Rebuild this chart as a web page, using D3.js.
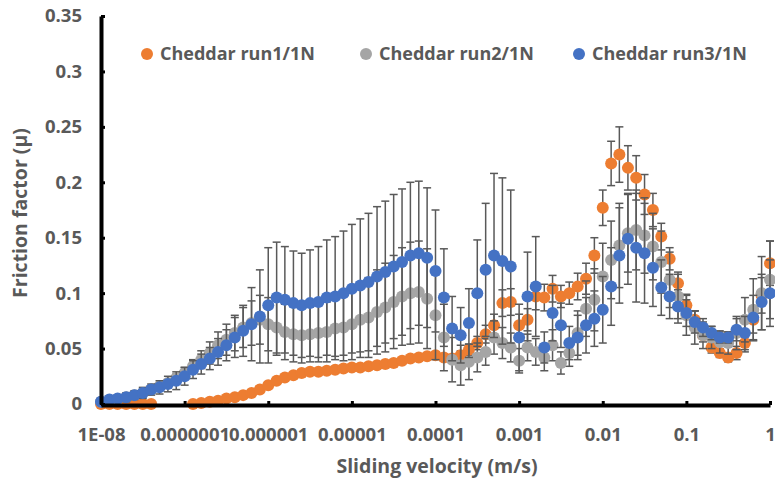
<!DOCTYPE html>
<html>
<head>
<meta charset="utf-8">
<script src="https://cdn.jsdelivr.net/npm/d3@7"></script>
<style>
  body { margin: 0; background: #fff; }
  text { font-family: "Open Sans", sans-serif; font-weight: bold; fill: #595959; }
</style>
</head>
<body>
<script>
// sliding velocity (m/s), ten points per decade
var velocity = [
  1e-8, 1.26e-8, 1.58e-8, 2e-8, 2.51e-8, 3.16e-8, 3.98e-8, 5.01e-8, 6.31e-8, 7.94e-8,
  1e-7, 1.26e-7, 1.58e-7, 2e-7, 2.51e-7, 3.16e-7, 3.98e-7, 5.01e-7, 6.31e-7, 7.94e-7,
  1e-6, 1.26e-6, 1.58e-6, 2e-6, 2.51e-6, 3.16e-6, 3.98e-6, 5.01e-6, 6.31e-6, 7.94e-6,
  1e-5, 1.26e-5, 1.58e-5, 2e-5, 2.51e-5, 3.16e-5, 3.98e-5, 5.01e-5, 6.31e-5, 7.94e-5,
  1e-4, 1.26e-4, 1.58e-4, 2e-4, 2.51e-4, 3.16e-4, 3.98e-4, 5.01e-4, 6.31e-4, 7.94e-4,
  1e-3, 1.26e-3, 1.58e-3, 2e-3, 2.51e-3, 3.16e-3, 3.98e-3, 5.01e-3, 6.31e-3, 7.94e-3,
  1e-2, 1.26e-2, 1.58e-2, 2e-2, 2.51e-2, 3.16e-2, 3.98e-2, 5.01e-2, 6.31e-2, 7.94e-2,
  0.1, 0.126, 0.158, 0.2, 0.251, 0.316, 0.398, 0.501, 0.631, 0.794,
  1
];

var run1 = [
  0, 0, 0, 0, 0, 0, 0, null, null, null,
  null, 0, 0.001, 0.002, 0.003, 0.005, 0.006, 0.008, 0.010, 0.013,
  0.017, 0.021, 0.024, 0.026, 0.028, 0.029, 0.029, 0.030, 0.031, 0.032,
  0.033, 0.033, 0.034, 0.035, 0.036, 0.037, 0.039, 0.041, 0.042, 0.043,
  0.044, 0.042, 0.041, 0.044, 0.049, 0.055, 0.063, 0.071, 0.091, 0.092,
  0.071, 0.076, 0.097, 0.096, 0.104, 0.097, 0.100, 0.106, 0.113, 0.134,
  0.177, 0.217, 0.225, 0.213, 0.204, 0.189, 0.175, 0.151, 0.131, 0.109,
  0.089, 0.076, 0.062, 0.051, 0.046, 0.042, 0.046, 0.055, 0.076, 0.098,
  0.127
];
var run1Err = [
  0, 0, 0, 0, 0, 0, 0, 0, 0, 0,
  0, 0.001, 0.001, 0.001, 0.001, 0.001, 0.001, 0.001, 0.001, 0.001,
  0.001, 0.001, 0.001, 0.001, 0.001, 0.001, 0.001, 0.001, 0.001, 0.001,
  0.001, 0.002, 0.002, 0.002, 0.002, 0.002, 0.002, 0.002, 0.002, 0.002,
  0.002, 0.003, 0.003, 0.004, 0.005, 0.006, 0.008, 0.010, 0.012, 0.012,
  0.010, 0.010, 0.012, 0.012, 0.012, 0.010, 0.010, 0.012, 0.014, 0.016,
  0.016, 0.020, 0.025, 0.020, 0.020, 0.018, 0.015, 0.012, 0.010, 0.010,
  0.010, 0.008, 0.006, 0.005, 0.004, 0.004, 0.006, 0.008, 0.012, 0.016,
  0.020
];

var run2 = [
  0.002, 0.003, 0.004, 0.006, 0.008, 0.010, 0.013, 0.016, 0.019, 0.023,
  0.028, 0.034, 0.040, 0.046, 0.053, 0.058, 0.064, 0.069, 0.073, 0.076,
  0.072, 0.069, 0.065, 0.063, 0.062, 0.063, 0.064, 0.065, 0.068, 0.069,
  0.072, 0.076, 0.078, 0.083, 0.087, 0.092, 0.097, 0.100, 0.101, 0.095,
  0.080, 0.060, 0.040, 0.035, 0.038, 0.042, 0.047, 0.060, 0.055, 0.051,
  0.039, 0.051, 0.047, 0.042, 0.053, 0.037, 0.046, 0.064, 0.086, 0.094,
  0.115, 0.130, 0.143, 0.154, 0.157, 0.152, 0.142, 0.128, 0.112, 0.097,
  0.080, 0.069, 0.062, 0.060, 0.056, 0.055, 0.064, 0.076, 0.085, 0.100,
  0.112
];
var run2Err = [
  0.002, 0.002, 0.002, 0.002, 0.002, 0.002, 0.002, 0.002, 0.003, 0.004,
  0.005, 0.006, 0.008, 0.010, 0.012, 0.014, 0.016, 0.018, 0.020, 0.022,
  0.024, 0.025, 0.025, 0.025, 0.025, 0.025, 0.026, 0.027, 0.028, 0.030,
  0.032, 0.034, 0.036, 0.038, 0.040, 0.042, 0.044, 0.046, 0.046, 0.045,
  0.040, 0.030, 0.020, 0.018, 0.016, 0.013, 0.012, 0.015, 0.014, 0.013,
  0.011, 0.012, 0.012, 0.012, 0.014, 0.010, 0.012, 0.020, 0.025, 0.028,
  0.030, 0.035, 0.038, 0.035, 0.036, 0.034, 0.030, 0.028, 0.025, 0.020,
  0.018, 0.015, 0.012, 0.010, 0.010, 0.010, 0.015, 0.020, 0.028, 0.033,
  0.035
];

var run3 = [
  0.002, 0.004, 0.005, 0.006, 0.008, 0.010, 0.013, 0.015, 0.018, 0.021,
  0.025, 0.031, 0.036, 0.041, 0.047, 0.053, 0.060, 0.066, 0.072, 0.079,
  0.089, 0.096, 0.094, 0.091, 0.089, 0.091, 0.092, 0.096, 0.097, 0.100,
  0.104, 0.107, 0.110, 0.115, 0.119, 0.124, 0.128, 0.134, 0.136, 0.132,
  0.120, 0.096, 0.068, 0.062, 0.073, 0.100, 0.121, 0.134, 0.129, 0.124,
  0.060, 0.097, 0.106, 0.051, 0.082, 0.071, 0.055, 0.060, 0.071, 0.077,
  0.085, 0.106, 0.134, 0.149, 0.141, 0.136, 0.123, 0.105, 0.097, 0.088,
  0.082, 0.074, 0.069, 0.064, 0.060, 0.060, 0.067, 0.064, 0.078, 0.092,
  0.100
];
var run3Err = [
  0.003, 0.003, 0.003, 0.004, 0.004, 0.005, 0.005, 0.006, 0.007, 0.008,
  0.008, 0.008, 0.009, 0.010, 0.012, 0.014, 0.018, 0.023, 0.033, 0.042,
  0.052, 0.050, 0.048, 0.047, 0.047, 0.048, 0.050, 0.052, 0.054, 0.056,
  0.058, 0.060, 0.062, 0.063, 0.064, 0.065, 0.066, 0.066, 0.065, 0.063,
  0.055, 0.044, 0.029, 0.025, 0.031, 0.048, 0.060, 0.074, 0.075, 0.069,
  0.030, 0.040, 0.045, 0.014, 0.025, 0.020, 0.015, 0.020, 0.025, 0.025,
  0.030, 0.035, 0.043, 0.041, 0.049, 0.045, 0.035, 0.025, 0.020, 0.015,
  0.012, 0.010, 0.008, 0.006, 0.005, 0.005, 0.010, 0.015, 0.020, 0.025,
  0.030
];

var seriesNames = ["Cheddar run1/1N", "Cheddar run2/1N", "Cheddar run3/1N"];
var seriesColors = ["#ED7D31", "#A5A5A5", "#4472C4"];
var yTicks = [0, 0.05, 0.1, 0.15, 0.2, 0.25, 0.3, 0.35];
var xTicks = [1e-8, 1e-7, 1e-6, 1e-5, 1e-4, 1e-3, 1e-2, 1e-1, 1];
var xTickLabels = ["1E-08", "0.0000001", "0.000001", "0.00001", "0.0001", "0.001", "0.01", "0.1", "1"];

var width = 775,
    height = 479;

var svg = d3.select("body").append("svg")
    .attr("width", width)
    .attr("height", height);

var x = d3.scaleLog()
    .domain([1e-8, 1])
    .range([101, 770]);

var y = d3.scaleLinear()
    .domain([0, 0.35])
    .range([404, 16]);

var series = [
    { name: seriesNames[0], color: seriesColors[0], vals: run1, err: run1Err },
    { name: seriesNames[1], color: seriesColors[1], vals: run2, err: run2Err },
    { name: seriesNames[2], color: seriesColors[2], vals: run3, err: run3Err }
];

// each series: error bars first, then its markers
series.forEach(function(s) {
    var pts = velocity.map(function(v, i) {
        return { v: v, m: s.vals[i], e: s.err[i] };
    }).filter(function(d) { return d.m !== null; });

    var bars = svg.append("g")
        .attr("stroke", "#595959")
        .attr("stroke-width", 1.5);

    var eb = bars.selectAll("g")
        .data(pts.filter(function(d) { return d.e > 0; }))
        .enter().append("g");

    eb.append("line")
        .attr("x1", function(d) { return x(d.v); })
        .attr("x2", function(d) { return x(d.v); })
        .attr("y1", function(d) { return y(d.m + d.e); })
        .attr("y2", function(d) { return y(Math.max(0, d.m - d.e)); });
    eb.append("line")
        .attr("x1", function(d) { return x(d.v) - 4; })
        .attr("x2", function(d) { return x(d.v) + 4; })
        .attr("y1", function(d) { return y(d.m + d.e); })
        .attr("y2", function(d) { return y(d.m + d.e); });
    eb.append("line")
        .attr("x1", function(d) { return x(d.v) - 4; })
        .attr("x2", function(d) { return x(d.v) + 4; })
        .attr("y1", function(d) { return y(Math.max(0, d.m - d.e)); })
        .attr("y2", function(d) { return y(Math.max(0, d.m - d.e)); });

    svg.append("g").selectAll("circle")
        .data(pts)
        .enter().append("circle")
        .attr("cx", function(d) { return x(d.v); })
        .attr("cy", function(d) { return y(d.m); })
        .attr("r", 6)
        .attr("fill", s.color);
});

// axes
var yAxis = d3.axisLeft(y)
    .tickValues(yTicks)
    .tickSizeInner(-4)
    .tickSizeOuter(0)
    .tickPadding(19)
    .tickFormat(function(d) { return d3.format("")(+d.toFixed(2)); });

var gy = svg.append("g")
    .attr("transform", "translate(101,0)")
    .call(yAxis);
gy.select(".domain").attr("stroke", "#000").attr("stroke-width", 4);
gy.selectAll(".tick line").attr("stroke", "#000").attr("stroke-width", 3);
gy.selectAll(".tick text").style("font-size", "18.5px").attr("fill", "#595959");

var xAxis = d3.axisBottom(x)
    .tickValues(xTicks)
    .tickSizeInner(-4)
    .tickSizeOuter(0)
    .tickPadding(23)
    .tickFormat(function(d, i) { return xTickLabels[i]; });

var gx = svg.append("g")
    .attr("transform", "translate(0,405)")
    .call(xAxis);
gx.select(".domain").attr("stroke", "#000").attr("stroke-width", 4);
gx.selectAll(".tick line").attr("stroke", "#000").attr("stroke-width", 3);
gx.selectAll(".tick text").style("font-size", "18.5px").attr("fill", "#595959");

// axis titles
svg.append("text")
    .attr("transform", "translate(27,213) rotate(-90)")
    .attr("text-anchor", "middle")
    .style("font-size", "19.5px")
    .text("Friction factor (μ)");

svg.append("text")
    .attr("x", 437)
    .attr("y", 473)
    .attr("text-anchor", "middle")
    .style("font-size", "19.5px")
    .text("Sliding velocity (m/s)");

// legend
var legendX = [147, 366, 579];
var lg = svg.append("g").selectAll("g")
    .data(series)
    .enter().append("g")
    .attr("transform", function(d, i) { return "translate(" + legendX[i] + ",54)"; });
lg.append("circle")
    .attr("r", 6)
    .attr("fill", function(d) { return d.color; });
lg.append("text")
    .attr("x", 13)
    .attr("dy", "0.35em")
    .style("font-size", "18px")
    .text(function(d) { return d.name; });
</script>
</body>
</html>
